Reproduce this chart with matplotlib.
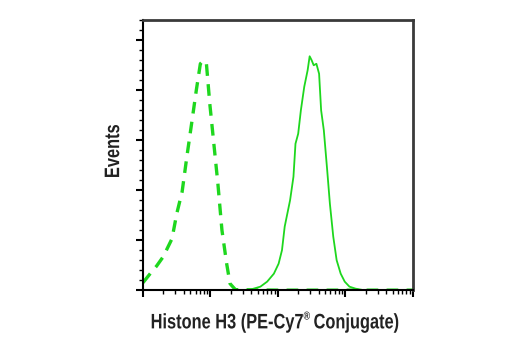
import numpy as np
import matplotlib
matplotlib.use("Agg")
import matplotlib.pyplot as plt
from matplotlib.font_manager import FontProperties
from matplotlib.patches import PathPatch
from matplotlib.path import Path
from matplotlib.textpath import TextPath
from matplotlib.transforms import Affine2D, IdentityTransform
from matplotlib.ticker import LogLocator, MultipleLocator, NullFormatter

# Histogram traces, x in log10 decades, y in event units
iso_x = [0.0, 0.13, 0.20, 0.30, 0.43, 0.50, 0.58, 0.65, 0.72, 0.79, 0.85, 0.90,
         0.94, 0.99, 1.05, 1.11, 1.17, 1.24, 1.29, 1.37, 2.0, 3.0, 4.0]
iso_y = [0.15, 0.37, 0.48, 0.67, 1.03, 1.53, 1.97, 2.67, 3.33, 4.00, 4.53, 4.60,
         4.53, 3.73, 2.93, 2.13, 1.20, 0.53, 0.13, 0.01, 0.0, 0.0, 0.0]

stain_x = [1.44, 1.59, 1.74, 1.84, 1.94, 2.01, 2.06, 2.10, 2.13, 2.18, 2.23, 2.26,
           2.30, 2.34, 2.39, 2.44, 2.47, 2.50, 2.53, 2.57, 2.61, 2.64, 2.68, 2.73,
           2.77, 2.82, 2.87, 2.93, 2.99, 3.06, 3.15, 3.23]
stain_y = [0.0, 0.01, 0.07, 0.17, 0.33, 0.53, 0.80, 1.27, 1.47, 1.80, 2.27, 2.93,
           3.13, 3.60, 4.07, 4.40, 4.68, 4.60, 4.50, 4.53, 4.33, 3.60, 3.20, 2.40,
           1.73, 1.07, 0.60, 0.33, 0.17, 0.07, 0.03, 0.01]

# label pieces: (text, relative size, raise as fraction of size)
x_label = [("Histone H3 (PE-Cy7", 1.0, 0.0), ("®", 0.55, 0.42), ("Conjugate)", 1.0, 0.0)]
y_label = [("Events", 1.0, 0.0)]

green = "#1ed71e"
W, H = 520, 350
prop = FontProperties(family="Liberation Sans", weight="bold")


def narrow_text(fig, pieces, cx, cy, size, squeeze=0.78, rotation=0):
    # bold text squeezed horizontally to look like a condensed face (pixel coords)
    paths = []
    x = 0.0
    for i, (s, rel, rise) in enumerate(pieces):
        if i > 0 and rel == 1.0:
            x += size * 0.26  # word gap after the superscript
        tp = TextPath((0, 0), s, size=size * rel, prop=prop)
        ext = tp.get_extents()
        tp = Affine2D().translate(x - ext.x0 + (1 if rel < 1 else 0), size * rise).transform_path(tp)
        paths.append(tp)
        x = tp.get_extents().x1
    tp = Path.make_compound_path(*paths)
    ext = Path.make_compound_path(*[p for p, pc in zip(paths, pieces) if pc[1] == 1.0]).get_extents()
    tr = (Affine2D()
          .translate(-(ext.x0 + x) / 2, -(ext.y0 + ext.y1) / 2)
          .scale(squeeze, 1)
          .rotate_deg(rotation)
          .translate(cx, H - cy))
    fig.patches.append(PathPatch(tr.transform_path(tp), transform=IdentityTransform(),
                                 facecolor="#222222", edgecolor="none", figure=fig))


fig = plt.figure(figsize=(W / 100, H / 100), dpi=100)
ax = fig.add_axes([0.275, 0.171, 0.519, 0.771])

ax.plot(10 ** np.array(iso_x), iso_y, color=green, lw=2.4, ls=(0, (3.5, 2.5)))
ax.plot(10 ** np.array(stain_x), stain_y, color=green, lw=1.3)

ax.set_xscale("log")
ax.set_xlim(1, 10 ** 4)
ax.set_ylim(0, 5.4)

ax.xaxis.set_major_locator(LogLocator(base=10, numticks=10))
ax.xaxis.set_minor_locator(LogLocator(base=10, subs=np.arange(2, 10), numticks=20))
ax.xaxis.set_major_formatter(NullFormatter())
ax.xaxis.set_minor_formatter(NullFormatter())
ax.yaxis.set_major_locator(MultipleLocator(1))
ax.yaxis.set_minor_locator(MultipleLocator(0.2))
ax.yaxis.set_major_formatter(NullFormatter())

ax.tick_params(which="major", direction="out", length=5, width=1.5, color="black")
ax.tick_params(which="minor", direction="out", length=3, width=1, color="black")

for side in ["left", "bottom"]:
    ax.spines[side].set_linewidth(1.5)
    ax.spines[side].set_color("black")
for side in ["top", "right"]:
    ax.spines[side].set_linewidth(2)
    ax.spines[side].set_color("#3a3a3a")

narrow_text(fig, x_label, 275, 323, 21)
narrow_text(fig, y_label, 112, 151, 21, rotation=90)

fig.savefig("out.png", dpi=100)
